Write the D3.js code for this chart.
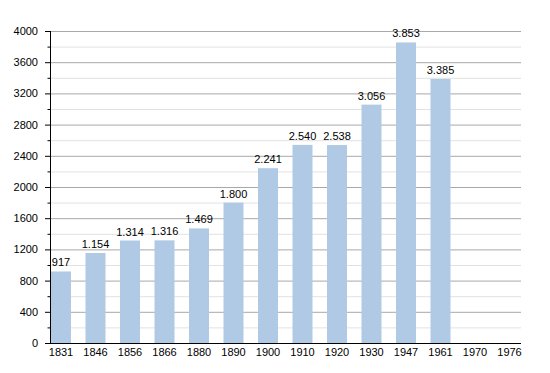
<!DOCTYPE html>
<html>
<head>
<meta charset="utf-8">
<script src="https://cdn.jsdelivr.net/npm/d3@7"></script>
<style>
  body { margin: 0; background: #fff; }
  text { font-family: "Liberation Sans", Arial, sans-serif; }
</style>
</head>
<body>
<div id="chart"></div>
<script>
// anni del censimento e abitanti
var anni = ["1831", "1846", "1856", "1866", "1880", "1890", "1900", "1910", "1920", "1930", "1947", "1961", "1970", "1976"];
var abitanti = [917, 1154, 1314, 1316, 1469, 1800, 2241, 2540, 2538, 3056, 3853, 3385, null, null];
var etichette = ["917", "1.154", "1.314", "1.316", "1.469", "1.800", "2.241", "2.540", "2.538", "3.056", "3.853", "3.385", "", ""];
var tickY = [0, 400, 800, 1200, 1600, 2000, 2400, 2800, 3200, 3600, 4000];
var tickMinori = [200, 600, 1000, 1400, 1800, 2200, 2600, 3000, 3400, 3800];

var W = 550, H = 373;
var margin = { top: 31, right: 29, bottom: 30, left: 50 },
    width = W - margin.left - margin.right,
    height = H - margin.top - margin.bottom;

var svg = d3.select("#chart").append("svg")
    .attr("width", W).attr("height", H)
    .append("g")
    .attr("transform", "translate(" + margin.left + "," + margin.top + ")");

var x = d3.scaleBand()
    .domain(anni)
    .range([0, width])
    .paddingInner(0.42)
    .paddingOuter(0.036)
    .align(0.4);

var y = d3.scaleLinear()
    .domain([0, 4000])
    .range([height, 0]);

// griglia minore
svg.append("g").selectAll("line").data(tickMinori).enter().append("line")
    .attr("x1", 0).attr("x2", width)
    .attr("y1", function (d) { return y(d) + 0.5; })
    .attr("y2", function (d) { return y(d) + 0.5; })
    .attr("stroke", "#e2e2e2");

// griglia maggiore
svg.append("g").selectAll("line").data(tickY.slice(1)).enter().append("line")
    .attr("x1", 0).attr("x2", width)
    .attr("y1", function (d) { return y(d) + 0.5; })
    .attr("y2", function (d) { return y(d) + 0.5; })
    .attr("stroke", "#a8a8a8");

// barre
var dati = anni.map(function (a, i) { return { anno: a, valore: abitanti[i], testo: etichette[i] }; })
    .filter(function (d) { return d.valore !== null; });

svg.append("g").selectAll("rect").data(dati).enter().append("rect")
    .attr("x", function (d) { return x(d.anno); })
    .attr("y", function (d) { return y(d.valore); })
    .attr("width", x.bandwidth())
    .attr("height", function (d) { return height - y(d.valore); })
    .attr("fill", "#b0cae5");

// valori sopra le barre
svg.append("g").selectAll("text").data(dati).enter().append("text")
    .attr("x", function (d) { return x(d.anno) + x.bandwidth() / 2; })
    .attr("y", function (d) { return y(d.valore) - 5; })
    .attr("text-anchor", "middle")
    .attr("font-size", "11px")
    .attr("fill", "#000")
    .text(function (d) { return d.testo; });

// asse Y
var assey = svg.append("g")
    .call(d3.axisLeft(y).tickValues(tickY).tickSize(5).tickPadding(7).tickFormat(d3.format("d")));
assey.selectAll("text").attr("font-size", "11px").attr("font-family", "Liberation Sans, Arial, sans-serif").attr("fill", "#000");
assey.selectAll("line").attr("stroke", "#000");
assey.select(".domain").remove();

svg.append("g").selectAll("line").data(tickMinori).enter().append("line")
    .attr("x1", -2.5).attr("x2", 0)
    .attr("y1", function (d) { return y(d) + 0.5; })
    .attr("y2", function (d) { return y(d) + 0.5; })
    .attr("stroke", "#000");

svg.append("line")
    .attr("x1", 0.5).attr("x2", 0.5)
    .attr("y1", 0).attr("y2", height)
    .attr("stroke", "#000");

// asse X
var assex = svg.append("g")
    .attr("transform", "translate(0," + height + ")")
    .call(d3.axisBottom(x).tickSize(0).tickPadding(5));
assex.selectAll("text").attr("font-size", "11px").attr("font-family", "Liberation Sans, Arial, sans-serif").attr("fill", "#000");
assex.select(".domain").attr("d", "M0,0.5H" + width).attr("stroke", "#000");
</script>
</body>
</html>
